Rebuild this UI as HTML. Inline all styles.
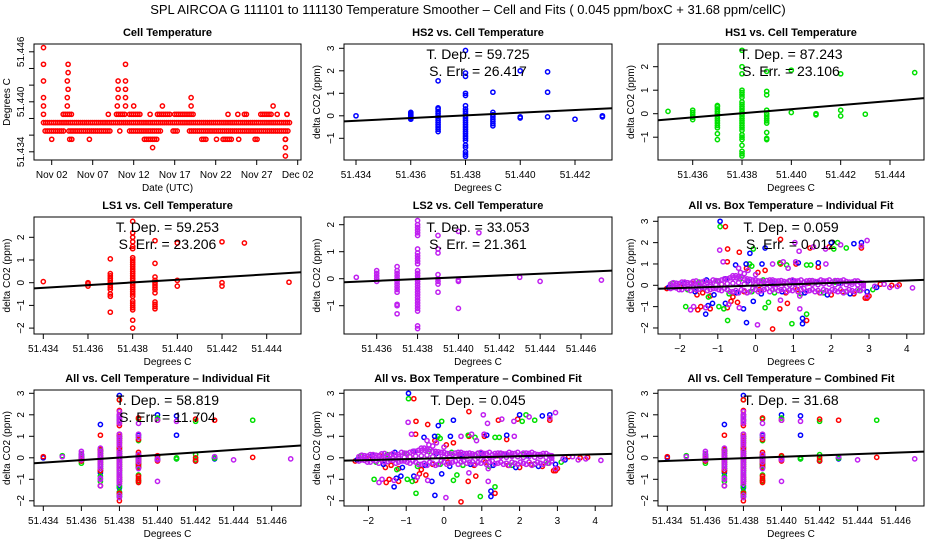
<!DOCTYPE html>
<html><head><meta charset="utf-8"><style>
html,body{margin:0;padding:0;background:#fff;}
svg{display:block;font-family:"Liberation Sans",Arial,sans-serif;}
</style></head><body>
<svg id="chart" width="936" height="540" viewBox="0 0 936 540" xmlns="http://www.w3.org/2000/svg">
<rect x="0" y="0" width="936" height="540" fill="#fff"/>
<text x="468" y="14" font-size="13" text-anchor="middle">SPL   AIRCOA G   111101 to 111130   Temperature Smoother – Cell and Fits ( 0.045  ppm/boxC +  31.68  ppm/cellC)</text>
</svg>
<script>
// ---------- Panel 1: cell temperature time series (runs of hourly readings: level index, start day, end day) ----------
const cellLevelBase = 51.4335;
const cellRunLevel = [4,3,3,3,3,3,3,2,2,2,2,2,2,2,2,2,2,2,2,1,1,0,5,5,5,5,5,5,5,5,5,5,5,5,5,5,5,6,6,6,6,6,6,6,6,7,7,7,7,7,8,8,8,9,9,9,9,10,11,11,11,13];
const cellRunStart = [1.0,1.2,4.1,10.3,11.5,16.8,18.8,2.0,4.2,6.6,13.3,20.3,22.1,22.9,24.8,26.8,30.5,30.5,30.5,14.3,30.5,30.5,1.0,3.4,8.9,9.9,11.5,14.0,14.9,17.0,23.5,24.7,25.5,27.5,29.5,30.7,30.7,1.0,3.9,10.0,11.0,12.0,15.5,19.0,29.0,1.0,3.9,10.1,11.0,19.0,4.0,10.1,11.0,1.0,3.9,10.1,11.0,4.0,1.0,4.0,11.0,1.0];
const cellRunEnd   = [31.0,3.6,9.3,10.3,15.4,17.4,31.0,2.0,4.6,6.6,14.8,20.8,22.1,23.9,24.8,27.2,30.5,30.5,30.5,14.3,30.5,30.5,1.0,4.6,8.9,11.1,12.9,14.0,16.6,19.4,23.5,24.7,25.9,28.9,29.5,30.7,30.7,1.0,3.9,10.0,11.0,12.0,15.5,19.0,29.0,1.0,3.9,10.1,11.0,19.0,4.0,10.1,11.0,1.0,3.9,10.1,11.0,4.0,1.0,4.0,11.0,1.0];
const dateTickDays = [2,7,12,17,22,27,32];
const dateTickLabels = ["Nov 02","Nov 07","Nov 12","Nov 17","Nov 22","Nov 27","Dec 02"];
const cellTempTicks = [51.434,51.436,51.438,51.440,51.442,51.444,51.446];
const cellTempTickLabels = ["51.434","","","51.440","","","51.446"];

// ---------- Cell-temperature scatter data (x columns, y values per column) ----------
const hs2Cols = [51.434,51.436,51.437,51.438,51.439,51.440,51.441,51.442,51.443];
const hs2Vals = [[0],[-0.15,-0.1,-0.05,0,0.05,0.1,0.15],[-0.7,-0.6,-0.5,-0.4,-0.3,-0.2,-0.1,0,0.1,0.2,0.3,0.35,1.55],
 [-1.8,-1.7,-1.6,-1.4,-1.3,-1.1,-1.0,-0.9,-0.8,-0.7,-0.6,-0.5,-0.4,-0.3,-0.2,-0.1,0,0.1,0.2,0.3,0.45,0.9,1.0,1.75,1.9,2.9],
 [-0.45,-0.35,-0.25,-0.15,-0.05,0.05,0.15,1.05],[-0.1,-0.05,2.0],[-0.05,1.05,1.95],[-0.15],[-0.05,0]];
const hs1Cols = [51.435,51.436,51.437,51.438,51.439,51.440,51.441,51.442,51.443,51.445];
const hs1Vals = [[0.1],[-0.25,-0.15,-0.05,0.05,0.15],[-1.1,-0.85,-0.6,-0.5,-0.4,-0.3,-0.2,-0.1,0,0.1,0.2,0.3,0.35],
 [-1.8,-1.7,-1.6,-1.35,-1.1,-1.0,-0.9,-0.7,-0.6,-0.5,-0.4,-0.3,-0.2,-0.1,0,0.1,0.2,0.3,0.4,0.5,0.7,0.8,0.9,1.0,1.7,2.0,2.7],
 [-1.1,-1.05,-0.8,-0.4,-0.3,-0.2,-0.1,0,0.15,0.8,0.95,1.8],[0.05,1.85],[-0.05,0],[-0.1,0.15,1.7],[-0.02],[1.75]];
const ls1Cols = [51.434,51.436,51.437,51.438,51.439,51.440,51.442,51.443,51.445];
const ls1Vals = [[0.05],[-0.15,-0.05,0],[-1.3,-0.6,-0.5,-0.3,-0.2,-0.1,0,0.1,0.2,0.3,0.4,1.05],
 [-2.0,-1.65,-1.2,-1.1,-1.0,-0.9,-0.8,-0.6,-0.5,-0.4,-0.3,-0.2,-0.1,0,0.1,0.2,0.3,0.4,0.5,0.6,0.7,0.8,0.9,1.0,1.1,1.5,1.6,1.8,2.0,2.2,2.7],
 [-1.15,-1.05,-0.95,-0.85,-0.45,-0.3,-0.2,-0.1,0,0.1,0.25,0.85,1.85],[-0.15,0.1,1.75],[-0.15,0,1.8],[1.75],[0.02]];
const ls2Cols = [51.435,51.436,51.437,51.438,51.439,51.440,51.441,51.443,51.444,51.447];
const ls2Vals = [[0.05],[-0.1,0,0.1,0.2,0.3],[-1.3,-1.0,-0.95,-0.5,-0.4,-0.3,-0.2,-0.1,0,0.1,0.2,0.3,0.45],
 [-1.85,-1.75,-1.2,-1.1,-1.0,-0.9,-0.8,-0.7,-0.6,-0.5,-0.4,-0.3,-0.2,-0.1,0,0.1,0.2,0.3,0.55,0.65,0.75,0.85,0.95,1.1,1.6,1.7,1.8,1.9,2.0,2.15],
 [-0.5,-0.2,-0.1,0,0.15,0.95,1.1,1.6],[-1.1,-0.1,-0.05,1.75],[1.7],[0.05],[-0.1],[-0.05]];

// ---------- Box-temperature scatter data ----------
const redBoxX = [-2.35,-2.0,-1.7,-1.55,-1.4,-1.2,-0.9,-0.6,-0.3,0.1,0.4,0.8,1.1,1.4,1.7,2.0,2.3,2.6,2.9,3.0,3.3,3.6,3.8,
 -0.8,-0.74,-0.43,0.66,1.44,1.95,2.8,-0.75,-0.24,0.06,0.25,0.66,1.07,1.66,-1.53,-1.45,-1.2,-0.75,-0.65,-0.48,0.45,0.64,0.84,1.35,2.95];
const redBoxY = [-0.15,-0.05,0.1,-0.45,-0.35,-0.5,0.05,-0.55,-0.3,-0.2,0.15,-0.35,-0.2,0.1,-0.35,-0.45,-0.3,-0.4,-0.6,-0.5,0.05,0,0.02,
 2.75,1.7,1.55,2.15,1.75,1.8,1.75,1.1,0.8,0.6,0.7,1.0,1.0,0.85,-1.15,-1.0,-1.1,-1.05,-0.75,-0.8,-2.05,-1.1,-0.85,-1.65,-0.6];
const greenBoxX = [-2.2,-1.8,-1.5,-1.25,-1.0,-0.7,-0.4,-0.1,0.2,0.5,0.9,1.2,1.5,1.8,2.1,2.4,2.75,3.1,
 -0.94,-0.06,2.07,2.17,2.4,-0.16,-0.1,0.64,0.82,1.35,1.46,-1.85,-0.97,-0.84,-0.74,0.25,0.34,0.96,1.35];
const greenBoxY = [0.1,-0.2,0.15,-0.55,0.2,-0.4,0.3,-0.3,0.25,-0.35,0.2,-0.4,0.2,-0.35,0.15,-0.3,-0.25,-0.2,
 2.75,1.7,1.7,2.0,1.75,1.0,0.9,1.05,0.95,0.95,0.95,-1.0,-1.0,-1.1,-1.65,-1.05,-0.8,-1.8,-1.35];
const blueBoxX = [-2.3,-1.9,-1.6,-1.3,-1.1,-0.8,-0.5,-0.2,0.15,0.45,0.7,1.0,1.3,1.6,1.9,2.2,2.5,2.95,3.2,
 -0.94,-0.15,0.25,2.0,2.6,2.8,-0.53,-0.25,0.17,1.13,1.66,-1.32,-1.26,-1.14,-0.8,-0.32,-0.24,-0.06,1.24,1.24];
const blueBoxY = [-0.1,0.1,-0.3,0.25,-0.45,0.3,-0.35,0.2,-0.4,0.15,-0.3,0.2,-0.35,0.15,-0.45,0.1,-0.4,-0.3,-0.1,
 3.0,1.5,1.75,2.0,1.95,2.0,0.95,1.0,1.0,1.05,1.05,-1.35,-0.95,-0.85,-0.85,-1.1,-1.75,-0.75,-1.55,-1.8];
const purpleBandX = [-2.25,-2.1,-1.95,-1.8,-1.65,-1.5,-1.35,-1.2,-1.05,-0.9,-0.75,-0.6,-0.45,-0.3,-0.15,0,0.15,0.3,0.45,0.6,0.75,0.9,1.05,1.2,1.35,1.5,1.65,1.8,1.95,2.1,2.25,2.4,2.55,2.7,2.85];
const purpleBandTop = [0.05,0.1,0.15,0.12,0.18,0.1,0.2,0.15,0.22,0.25,0.3,0.35,0.4,0.3,0.28,0.25,0.2,0.22,0.25,0.2,0.18,0.22,0.2,0.25,0.2,0.22,0.18,0.2,0.25,0.22,0.2,0.18,0.15,0.2,0.1];
const purpleBandMid = [-0.05,0,-0.02,0.02,0,0.03,-0.02,0.05,0.02,0.05,0.08,0.1,0.12,0.05,0.08,0.02,0.05,0.07,0.03,0.05,0.08,0.02,0.06,0.04,0.08,0.05,0.03,0.07,0.05,0.02,0.06,0.03,0.05,0.02,-0.02];
const purpleBandLow = [-0.15,-0.12,-0.2,-0.15,-0.1,-0.18,-0.12,-0.2,-0.15,-0.25,-0.2,-0.3,-0.35,-0.25,-0.3,-0.2,-0.25,-0.15,-0.2,-0.25,-0.18,-0.22,-0.15,-0.2,-0.28,-0.2,-0.25,-0.2,-0.3,-0.25,-0.2,-0.28,-0.25,-0.2,-0.15];
const purpleBand2X = [-2.175,-2.025,-1.875,-1.725,-1.575,-1.425,-1.275,-1.125,-0.975,-0.825,-0.675,-0.525,-0.375,-0.225,-0.075,0.075,0.225,0.375,0.525,0.675,0.825,0.975,1.125,1.275,1.425,1.575,1.725,1.875,2.025,2.175,2.325,2.475,2.625,2.775];
const purpleBand2Top = [0.12,0.08,0.15,0.1,0.2,0.15,0.12,0.25,0.2,0.3,0.35,0.45,0.38,0.3,0.25,0.2,0.15,0.25,0.2,0.22,0.15,0.25,0.2,0.15,0.22,0.18,0.25,0.2,0.15,0.22,0.25,0.15,0.2,0.12];
const purpleBand2Low = [-0.1,-0.2,-0.1,-0.25,-0.2,-0.1,-0.25,-0.15,-0.2,-0.15,-0.3,-0.25,-0.2,-0.35,-0.15,-0.3,-0.2,-0.3,-0.15,-0.2,-0.3,-0.25,-0.3,-0.15,-0.25,-0.3,-0.35,-0.25,-0.2,-0.3,-0.35,-0.2,-0.3,-0.25];
const purpleBoxX = [3.15,3.4,3.55,3.75,4.15,-0.95,1.04,1.15,1.53,1.85,2.25,2.95,2.8,-0.86,-0.45,0.45,0.73,0.86,1.06,1.86,
 -1.72,-1.64,-1.32,-0.71,-0.43,0.05,0.66,1.17,1.17,2.95,-0.6,-0.4,-0.3,-0.2,0.0,-0.5];
const purpleBoxY = [-0.05,0.05,-0.1,-0.05,-0.12,1.65,2.0,1.6,1.8,1.7,1.9,2.1,1.85,1.1,0.8,1.0,1.1,0.8,1.1,1.0,
 -1.15,-1.0,-1.05,-0.9,-1.05,-1.85,-0.7,-1.1,-0.5,-0.5,0.45,0.6,0.55,0.7,0.5,0.35];

// ---------- Fit results ----------
const fitSlopes = [59.725, 87.243, 59.253, 33.053, 0.059, 58.819, 0.045, 31.68];
const fitPivots = [51.4377, 51.4378, 51.4378, 51.4384, 0.17, 51.4378, 0.33, 51.4385];
const panelTitles = ["Cell Temperature","HS2 vs. Cell Temperature","HS1 vs. Cell Temperature","LS1 vs. Cell Temperature","LS2 vs. Cell Temperature","All vs. Box Temperature – Individual Fit","All vs. Cell Temperature – Individual Fit","All vs. Box Temperature – Combined Fit","All vs. Cell Temperature – Combined Fit"];
const annoLine1 = ["","T. Dep. =  59.725","T. Dep. =  87.243","T. Dep. =  59.253","T. Dep. =  33.053","T. Dep. =  0.059","T. Dep. =  58.819","T. Dep. =  0.045","T. Dep. =  31.68"];
const annoLine2 = ["","S. Err. =  26.417","S. Err. =  23.106","S. Err. =  23.206","S. Err. =  21.361","S. Err. =  0.012","S. Err. =  11.704","",""];

const RED="#ff0000", GREEN="#00e000", BLUE="#0000ff", PURPLE="#c020f0";
const NS="http://www.w3.org/2000/svg";
const svg=document.getElementById('chart');
function mk(tag,attrs,parent){const e=document.createElementNS(NS,tag);for(const k in attrs)e.setAttribute(k,attrs[k]);(parent||svg).appendChild(e);return e;}
function lin(v0,p0,v1,p1){return v=>p0+(v-v0)*(p1-p0)/(v1-v0);}

function frame(g,b,xs,ys,xt,xl,yt,yl,xTitle,yTitle,title){
  const r=mk('rect',{x:b.l,y:b.t,width:b.r-b.l,height:b.b-b.t,fill:'none',stroke:'#000','stroke-width':1},g);
  
  
  const xa=mk('g',{},g);
  
  
  mk('line',{x1:xs(xt[0]),x2:xs(xt[xt.length-1]),y1:b.b,y2:b.b,stroke:'#000'},xa);
  xt.forEach((v,i)=>{const x=xs(v);mk('line',{x1:x,x2:x,y1:b.b,y2:b.b+5,stroke:'#000'},xa);
    if(xl[i]){const t=mk('text',{x:x,y:b.b+18,'font-size':10,'text-anchor':'middle'},xa);t.textContent=xl[i];
      
      }});
  const ya=mk('g',{},g);
  
  
  mk('line',{x1:b.l,x2:b.l,y1:ys(yt[0]),y2:ys(yt[yt.length-1]),stroke:'#000'},ya);
  yt.forEach((v,i)=>{const y=ys(v);mk('line',{x1:b.l-5,x2:b.l,y1:y,y2:y,stroke:'#000'},ya);
    if(yl[i]){const t=mk('text',{x:b.l-10,y:y,'font-size':10,'text-anchor':'middle',transform:`rotate(-90 ${b.l-10} ${y})`},ya);t.textContent=yl[i];
      
      }});
  const xtl=mk('text',{x:(b.l+b.r)/2,y:b.b+31,'font-size':10,'text-anchor':'middle'},g);xtl.textContent=xTitle;
  
  
  const cy=(b.t+b.b)/2;
  const ytl=mk('text',{x:b.l-24,y:cy,'font-size':10,'text-anchor':'middle',transform:`rotate(-90 ${b.l-24} ${cy})`},g);ytl.textContent=yTitle;
  
  
  const tt=mk('text',{x:(b.l+b.r)/2,y:b.t-8,'font-size':11,'font-weight':'bold','text-anchor':'middle'},g);tt.textContent=title;
  
  
}
function pt(g,x,y,col){const c=mk('circle',{cx:x.toFixed(1),cy:y.toFixed(1),r:2.1,fill:'none',stroke:col,'stroke-width':1.5},g);
  
  }
function colsPts(g,xs,ys,cols,vals,col){cols.forEach((c,i)=>vals[i].forEach(v=>pt(g,xs(c),ys(v),col)));}
function xyPts(g,xs,ys,X,Y,col){X.forEach((x,i)=>pt(g,xs(x),ys(Y[i]),col));}
function xsInv(xs,p){const a=xs(0),b1=xs(1);return (p-a)/(b1-a);}
function fit(g,b,xs,ys,k,clip){
  const x0v=xsInv(xs,b.l), x1v=xsInv(xs,b.r);
  const l=mk('line',{x1:b.l,y1:ys(fitSlopes[k]*(x0v-fitPivots[k])),x2:b.r,y2:ys(fitSlopes[k]*(x1v-fitPivots[k])),stroke:'#000','stroke-width':2,'clip-path':`url(#${clip})`},g);
  
  }
function anno(g,b,i){[annoLine1[i],annoLine2[i]].forEach((s,j)=>{if(!s)return;const t=mk('text',{x:(b.l+b.r)/2,y:b.t+15+j*17,'font-size':14,'text-anchor':'middle'},g);t.textContent=s;
  
  });}
const defs=mk('defs',{});
function clipFor(id,b){const cp=mk('clipPath',{id:id},defs);mk('rect',{x:b.l,y:b.t,width:b.r-b.l,height:b.b-b.t},cp);}
function panel(name){const g=mk('g',{});return g;}

const cx=[[34,301],[344,612],[658,924]], ry=[[44,160],[217,334],[390,506]];
function box(c,r){return {l:cx[c][0],r:cx[c][1],t:ry[r][0],b:ry[r][1]};}
const cellTicksA=[51.434,51.436,51.438,51.440,51.442,51.444,51.446];
const lab=a=>a.map(v=>v.toFixed(3));

// Panel 1
(function(){const b=box(0,0),g=panel('cell-temperature-panel');
 const xs=lin(2,51.7,7,92.7), ys=lin(51.434,151.8,51.446,51.8);
 frame(g,b,xs,ys,dateTickDays,dateTickLabels,cellTempTicks,cellTempTickLabels,'Date (UTC)','Degrees C',panelTitles[0]);
 cellRunLevel.forEach((k,i)=>{const v=cellLevelBase+k*0.001;for(let d=cellRunStart[i];d<=cellRunEnd[i]+1e-9;d+=0.25)pt(g,xs(d),ys(v),RED);});
})();
// Panel 2 HS2
(function(){const b=box(1,0),g=panel('hs2-panel');const xs=lin(51.434,356,51.442,575),ys=lin(0,115.8,3,48.3);
 const xt=[51.434,51.436,51.438,51.440,51.442];frame(g,b,xs,ys,xt,lab(xt),[-1,0,1,2,3],['−1','0','1','2','3'],'Degrees C','delta CO2 (ppm)',panelTitles[1]);
 clipFor('c2',b);colsPts(g,xs,ys,hs2Cols,hs2Vals,BLUE);fit(g,b,xs,ys,0,'c2');anno(g,b,1);})();
// Panel 3 HS1
(function(){const b=box(2,0),g=panel('hs1-panel');const xs=lin(51.436,692.7,51.444,890),ys=lin(0,113.7,2,66.7);
 const xt=[51.436,51.438,51.440,51.442,51.444];frame(g,b,xs,ys,xt,lab(xt),[-1,0,1,2],['−1','0','1','2'],'Degrees C','delta CO2 (ppm)',panelTitles[2]);
 clipFor('c3',b);colsPts(g,xs,ys,hs1Cols,hs1Vals,GREEN);fit(g,b,xs,ys,1,'c3');anno(g,b,2);})();
// Panel 4 LS1
(function(){const b=box(0,1),g=panel('ls1-panel');const xs=lin(51.434,43.3,51.444,266.7),ys=lin(0,282.7,2,237.3);
 const xt=[51.434,51.436,51.438,51.440,51.442,51.444];frame(g,b,xs,ys,xt,lab(xt),[-2,-1,0,1,2],['−2','−1','0','1','2'],'Degrees C','delta CO2 (ppm)',panelTitles[3]);
 clipFor('c4',b);colsPts(g,xs,ys,ls1Cols,ls1Vals,RED);fit(g,b,xs,ys,2,'c4');anno(g,b,3);})();
// Panel 5 LS2
(function(){const b=box(1,1),g=panel('ls2-panel');const xs=lin(51.436,376.7,51.446,581),ys=lin(0,278.7,2,224.7);
 const xt=[51.436,51.438,51.440,51.442,51.444,51.446];frame(g,b,xs,ys,xt,lab(xt),[-1,0,1,2],['−1','0','1','2'],'Degrees C','delta CO2 (ppm)',panelTitles[4]);
 clipFor('c5',b);colsPts(g,xs,ys,ls2Cols,ls2Vals,PURPLE);fit(g,b,xs,ys,3,'c5');anno(g,b,4);})();
function boxAll(g,xs,ys){xyPts(g,xs,ys,redBoxX,redBoxY,RED);xyPts(g,xs,ys,greenBoxX,greenBoxY,GREEN);xyPts(g,xs,ys,blueBoxX,blueBoxY,BLUE);
 [purpleBandTop,purpleBandMid,purpleBandLow].forEach(Y=>xyPts(g,xs,ys,purpleBandX,Y,PURPLE));
 [purpleBand2Top,purpleBand2Low].forEach(Y=>xyPts(g,xs,ys,purpleBand2X,Y,PURPLE));
 xyPts(g,xs,ys,purpleBoxX,purpleBoxY,PURPLE);}
function cellAll(g,xs,ys){colsPts(g,xs,ys,hs2Cols,hs2Vals,BLUE);colsPts(g,xs,ys,hs1Cols,hs1Vals,GREEN);colsPts(g,xs,ys,ls1Cols,ls1Vals,RED);colsPts(g,xs,ys,ls2Cols,ls2Vals,PURPLE);}
const yt3=[-2,-1,0,1,2,3], yl3=['−2','−1','0','1','2','3'], bxt=[-2,-1,0,1,2,3,4], bxl=['−2','−1','0','1','2','3','4'];
// Panel 6
(function(){const b=box(2,1),g=panel('all-box-individual-panel');const xs=lin(0,755.6,4,906.8),ys=lin(0,285.3,3,221.3);
 frame(g,b,xs,ys,bxt,bxl,yt3,yl3,'Degrees C','delta CO2 (ppm)',panelTitles[5]);
 clipFor('c6',b);boxAll(g,xs,ys);fit(g,b,xs,ys,4,'c6');anno(g,b,5);})();
// Panel 7
(function(){const b=box(0,2),g=panel('all-cell-individual-panel');const xs=lin(51.434,43.3,51.446,271.7),ys=lin(0,457.8,3,393.3);
 frame(g,b,xs,ys,cellTicksA,lab(cellTicksA),yt3,yl3,'Degrees C','delta CO2 (ppm)',panelTitles[6]);
 clipFor('c7',b);cellAll(g,xs,ys);fit(g,b,xs,ys,5,'c7');anno(g,b,6);})();
// Panel 8
(function(){const b=box(1,2),g=panel('all-box-combined-panel');const xs=lin(0,444,4,595.2),ys=lin(0,457.8,3,393.3);
 frame(g,b,xs,ys,bxt,bxl,yt3,yl3,'Degrees C','delta CO2 (ppm)',panelTitles[7]);
 clipFor('c8',b);boxAll(g,xs,ys);fit(g,b,xs,ys,6,'c8');anno(g,b,7);})();
// Panel 9
(function(){const b=box(2,2),g=panel('all-cell-combined-panel');const xs=lin(51.434,667.3,51.446,895.7),ys=lin(0,457.8,3,393.3);
 frame(g,b,xs,ys,cellTicksA,lab(cellTicksA),yt3,yl3,'Degrees C','delta CO2 (ppm)',panelTitles[8]);
 clipFor('c9',b);cellAll(g,xs,ys);fit(g,b,xs,ys,7,'c9');anno(g,b,8);})();
</script>
</body></html>
